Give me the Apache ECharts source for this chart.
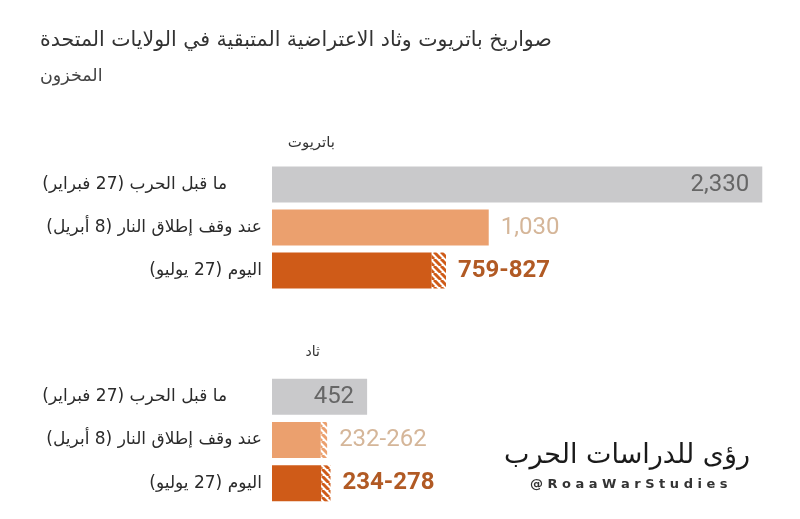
<!DOCTYPE html>
<html>
<head>
<meta charset="utf-8">
<script src="https://cdn.jsdelivr.net/npm/echarts@6/dist/echarts.min.js"></script>
<style>
html, body { margin: 0; padding: 0; background: #fff; }
#chart { width: 800px; height: 519px; direction: rtl; }
</style>
</head>
<body>
<div id="chart" dir="rtl"></div>
<script>
// stages of the stock count
const stages = ['ما قبل الحرب (27 فبراير)', 'عند وقف إطلاق النار (8 أبريل)', 'اليوم (27 يوليو)'];
// Patriot interceptors, low / high estimate
const patriotLow = [2330, 1030, 759];
const patriotHigh = [2330, 1030, 827];
// THAAD interceptors, low / high estimate
const thaadLow = [452, 232, 234];
const thaadHigh = [452, 262, 278];

const barColors = ['#c9c9cb', '#eba06e', '#cf5b18'];
const labelColors = ['#666666', '#d5b699', '#b15a24'];
const arFont = 'DejaVu Sans';
const numFont = 'Roboto';

function stripes(color) {
    const s = 7;
    const c = document.createElement('canvas');
    c.width = s; c.height = s;
    const ctx = c.getContext('2d');
    ctx.fillStyle = '#ffffff';
    ctx.fillRect(0, 0, s, s);
    ctx.strokeStyle = color;
    ctx.lineWidth = 3;
    for (let x = -s; x <= s; x += s) {
        ctx.beginPath();
        ctx.moveTo(x, 0);
        ctx.lineTo(x + s, s);
        ctx.stroke();
    }
    return { image: c, repeat: 'repeat' };
}

function valueText(i, low, high) {
    if (low[i] === high[i]) return low[i].toLocaleString('en-US');
    return low[i] + '-' + high[i];
}

function buildSeries(low, high, idx) {
    const base = low.map((v, i) => ({
        value: v,
        itemStyle: { color: barColors[i] },
        label: i === 0 ? {
            show: true, position: 'insideRight', distance: 13,
            formatter: valueText(i, low, high),
            color: labelColors[i], fontSize: 24, fontWeight: 'normal', fontFamily: numFont
        } : { show: false }
    }));
    const range = high.map((v, i) => ({
        value: v - low[i],
        itemStyle: { color: stripes(barColors[i]) },
        label: i === 0 ? { show: false } : {
            show: true, position: 'right', distance: 12,
            formatter: valueText(i, low, high),
            color: labelColors[i], fontSize: 24, fontFamily: numFont,
            fontWeight: i === 2 ? 'bold' : 'normal'
        }
    }));
    return [
        { type: 'bar', xAxisIndex: idx, yAxisIndex: idx, stack: 's' + idx, barWidth: 36, data: base, silent: true },
        { type: 'bar', xAxisIndex: idx, yAxisIndex: idx, stack: 's' + idx, barWidth: 36, data: range, silent: true }
    ];
}

function yAxisFor(idx) {
    return {
        type: 'category', gridIndex: idx, inverse: true, data: stages,
        axisLine: { show: false }, axisTick: { show: false },
        axisLabel: {
            margin: 10,
            formatter: (v, i) => (i === 0 ? '{a|' : '{b|') + v + '}',
            rich: {
                a: { fontSize: 17, color: '#2b2b2b', fontFamily: arFont, padding: [0, 35, 0, 0] },
                b: { fontSize: 17, color: '#2b2b2b', fontFamily: arFont }
            }
        }
    };
}

const chart = echarts.init(document.getElementById('chart'));
chart.setOption({
    animation: false,
    backgroundColor: '#ffffff',
    title: [
        { text: 'صواريخ باتريوت وثاد الاعتراضية المتبقية في الولايات المتحدة', left: 35, top: 25,
          textStyle: { fontSize: 20.5, fontWeight: 'normal', color: '#333', fontFamily: arFont } },
        { text: 'المخزون', left: 35, top: 62,
          textStyle: { fontSize: 17.5, fontWeight: 'normal', color: '#444', fontFamily: arFont } }
    ],
    grid: [
        { left: 272, right: 23, top: 163, height: 129 },
        { left: 272, right: 23, top: 375, height: 130 }
    ],
    xAxis: [
        { type: 'value', gridIndex: 0, min: 0, max: 2400, show: false },
        { type: 'value', gridIndex: 1, min: 0, max: 2400, show: false }
    ],
    yAxis: [yAxisFor(0), yAxisFor(1)],
    series: buildSeries(patriotLow, patriotHigh, 0).concat(buildSeries(thaadLow, thaadHigh, 1)),
    graphic: [
        { type: 'text', right: 800 - 335, top: 136, style: { text: 'باتريوت', font: '15px ' + arFont, fill: '#333' } },
        { type: 'text', right: 800 - 320, top: 345, style: { text: 'ثاد', font: '14px ' + arFont, fill: '#333' } },
        { type: 'text', right: 50, top: 442, style: { text: 'رؤى للدراسات الحرب', font: '27px ' + arFont, fill: '#1a1a1a' } },
        { type: 'text', left: 530, top: 478, style: { text: '\u200E@ R o a a W a r S t u d i e s', font: 'bold 13px ' + arFont, fill: '#333' } }
    ]
});
</script>
</body>
</html>
